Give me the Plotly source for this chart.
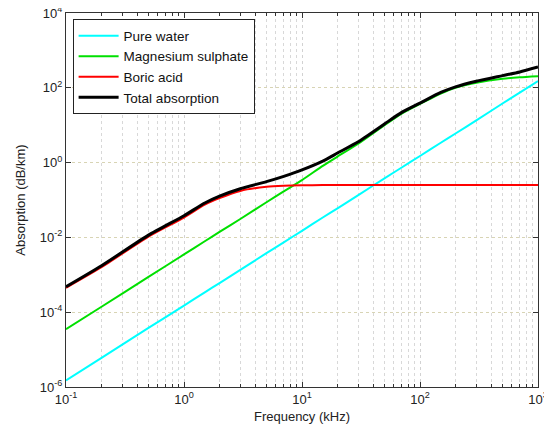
import plotly.graph_objects as go

# Frequency (kHz)
freq = [0.1, 0.2, 0.5, 1, 1.5, 2, 3, 5, 7, 10, 15, 20, 30, 50, 70, 100, 150, 200, 300, 500, 700, 1000]

# Absorption (dB/km)
pure_water = [1.5e-6, 6.0e-6, 3.8e-5, 1.5e-4, 3.4e-4, 6.0e-4, 1.35e-3, 3.8e-3, 7.4e-3, 0.015, 0.034,
              0.06, 0.135, 0.38, 0.74, 1.5, 3.4, 6.0, 13.5, 38, 74, 152]
magnesium = [3.5e-5, 1.4e-4, 8.8e-4, 3.5e-3, 7.9e-3, 0.014, 0.031, 0.087, 0.17, 0.34, 0.82,
             1.45, 3.2, 10.0, 20.5, 37, 70, 100, 136, 175, 192, 205]
boric = [4.5e-4, 1.6e-3, 0.0105, 0.034, 0.075, 0.112, 0.175, 0.225, 0.24, 0.247, 0.25,
         0.25, 0.25, 0.25, 0.25, 0.25, 0.25, 0.25, 0.25, 0.25, 0.25, 0.25]
total = [4.8e-4, 1.75e-3, 0.0115, 0.038, 0.083, 0.127, 0.20, 0.31, 0.43, 0.64, 1.1,
         1.8, 3.6, 10.8, 22, 39, 75, 106, 150, 212, 265, 360]

series_names = ["Pure water", "Magnesium sulphate", "Boric acid", "Total absorption"]
series_values = [pure_water, magnesium, boric, total]
series_colors = ["#00ffff", "#00e000", "#ff0000", "#000000"]
series_widths = [2, 2, 2, 3]

x_tickvals = [0.1, 1, 10, 100, 1000]
x_ticktext = ["10<sup>-1</sup>", "10<sup>0</sup>", "10<sup>1</sup>", "10<sup>2</sup>", "10<sup>3</sup>"]
y_tickvals = [1e-6, 1e-4, 1e-2, 1, 1e2, 1e4]
y_ticktext = ["10<sup>-6</sup>", "10<sup>-4</sup>", "10<sup>-2</sup>", "10<sup>0</sup>", "10<sup>2</sup>", "10<sup>4</sup>"]
x_minor = [m * 10 ** e for e in range(-1, 3) for m in range(2, 10)]

fig = go.Figure()
for name, vals, col, w in zip(series_names, series_values, series_colors, series_widths):
    fig.add_trace(go.Scatter(x=freq, y=vals, mode="lines", name=name,
                             line=dict(color=col, width=w, shape="spline", smoothing=0.6)))

font = "Liberation Sans, Arial, sans-serif"
# page body has an 8px default margin, so the figure is 8px smaller than the window
fig.update_layout(
    width=544, height=422,
    margin=dict(l=58, r=14, t=5, b=43),
    paper_bgcolor="white", plot_bgcolor="white",
    font=dict(family=font, size=13, color="#222"),
    showlegend=True,
    legend=dict(x=0.014, y=0.983, xanchor="left", yanchor="top",
                bgcolor="white", bordercolor="#222", borderwidth=1,
                font=dict(size=13.5, color="#111"), tracegroupgap=0,
                itemwidth=40),
)
fig.update_xaxes(
    type="log", range=[-1, 3], automargin=False, ticklabeloverflow="allow",
    tickvals=x_tickvals, ticktext=x_ticktext,
    ticks="inside", ticklen=5, tickcolor="#333",
    showline=True, linecolor="#333", linewidth=1, mirror="ticks",
    showgrid=True, gridcolor="#d2d2d2", griddash="dot", gridwidth=1,
    minor=dict(tickvals=x_minor, ticks="inside", ticklen=3, tickcolor="#333",
               showgrid=True, gridcolor="#d8d8d8", griddash="dot", gridwidth=1),
    title=dict(text="Frequency (kHz)", standoff=6, font=dict(size=13)),
    tickfont=dict(size=13), zeroline=False,
)
fig.update_yaxes(
    type="log", range=[-6, 4], automargin=False, ticklabeloverflow="allow",
    tickvals=y_tickvals, ticktext=y_ticktext,
    ticks="inside", ticklen=5, tickcolor="#333",
    showline=True, linecolor="#333", linewidth=1, mirror="ticks",
    showgrid=True, gridcolor="#d8d4b4", griddash="dot", gridwidth=1,
    title=dict(text="Absorption (dB/km)", standoff=11, font=dict(size=13)),
    tickfont=dict(size=13), zeroline=False,
)
fig.write_html("out.html")
